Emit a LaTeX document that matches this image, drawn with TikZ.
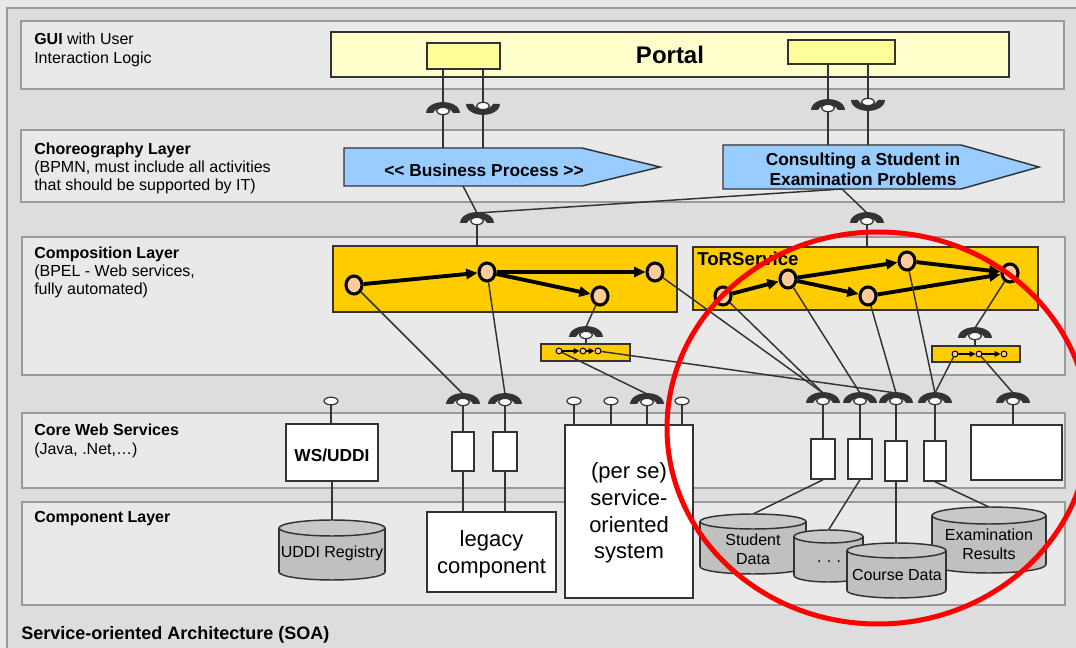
\documentclass[tikz,border=0pt]{standalone}
\usepackage{fontspec}
\setmainfont{Liberation Sans}
\usetikzlibrary{arrows.meta,fit,shapes.geometric}

\definecolor{bgouter}{HTML}{E8E8E8}
\definecolor{bg}{HTML}{DDDDDD}
\definecolor{layerfill}{HTML}{E9E9E9}
\definecolor{layerline}{HTML}{9A9A9A}
\definecolor{ink}{HTML}{333333}
\definecolor{portalfill}{HTML}{FFFFCC}
\definecolor{portalbox}{HTML}{FFFF99}
\definecolor{procblue}{HTML}{99CCFF}
\definecolor{bpelgold}{HTML}{FFCC00}
\definecolor{actpeach}{HTML}{FFCC99}
\definecolor{dbgray}{HTML}{C0C0C0}
\definecolor{dbtop}{HTML}{C8C8C8}
\definecolor{markred}{HTML}{FF0000}

% database drum: left, right, top, bottom, end-ellipse radius
\newcommand\drumshape[5]{%
  \filldraw[drum, fill=dbgray] ({(#1+#2)/2},{#4-#5}) ellipse [x radius={(#2-#1)/2}, y radius=#5];
  \fill[dbgray] (#1,{#3+#5}) rectangle (#2,{#4-#5});
  \draw[drumline] (#1,{#3+#5}) -- (#1,{#4-#5}) (#2,{#3+#5}) -- (#2,{#4-#5});
  \filldraw[drum] ({(#1+#2)/2},{#3+#5}) ellipse [x radius={(#2-#1)/2}, y radius=#5];
}

\begin{document}
\begin{tikzpicture}[x=0.75pt,y=-0.75pt,
  layer/.style={draw=layerline, fill=layerfill, line width=1.1pt, inner sep=0pt},
  lbl/.style={anchor=base west, inner sep=0pt, align=left, font=\fontsize{12}{13.75}\selectfont},
  portal/.style={draw=ink, fill=portalfill, line width=1.1pt, inner sep=0pt},
  pbox/.style={draw=ink, fill=portalbox, line width=1.1pt, inner sep=0pt},
  proc/.style={draw=ink, fill=procblue, line width=1.1pt},
  proctext/.style={font=\fontsize{13}{15}\selectfont\bfseries, align=center, inner sep=0pt},
  bpel/.style={draw=ink, fill=bpelgold, line width=1.1pt, inner sep=0pt},
  act/.style={ellipse, draw=black, fill=actpeach, line width=2.3pt, minimum width=12pt, minimum height=13.5pt, inner sep=0pt},
  tact/.style={circle, draw=black, fill=actpeach, line width=0.75pt, minimum size=4.4pt, inner sep=0pt},
  flow/.style={line width=2.9pt, -{Triangle[length=8.5pt,width=7.5pt]}},
  tflow/.style={line width=1.2pt, -{Triangle[length=4.5pt,width=4.2pt]}},
  wire/.style={draw=ink, line width=1.1pt},
  stem/.style={draw=ink, line width=1.5pt},
  wbox/.style={draw=ink, fill=white, line width=1.1pt, inner sep=0pt},
  drum/.style={draw=ink, fill=dbtop, line width=1.1pt},
  drumline/.style={draw=ink, line width=1.1pt},
  dbtext/.style={font=\fontsize{12}{14}\selectfont, inner sep=0pt, align=center},
  bigtext/.style={font=\fontsize{16.5}{20}\selectfont, align=center, inner sep=0pt},
  cupdown/.pic={
    \fill[ink] (-17,2) .. controls (-16,-12.5) and (16,-12.5) .. (17,2) -- (10,2) .. controls (8,-4.5) and (-8,-4.5) .. (-10,2) -- cycle;
    \draw[ink, fill=white, line width=0.9pt] (0,0) ellipse [x radius=6.5, y radius=3.6];
  },
  cupup/.pic={
    \fill[ink] (-17,-2) .. controls (-16,12.5) and (16,12.5) .. (17,-2) -- (10,-2) .. controls (8,4.5) and (-8,4.5) .. (-10,-2) -- cycle;
    \draw[ink, fill=white, line width=0.9pt] (0,0) ellipse [x radius=6.5, y radius=3.6];
  },
  lolli/.pic={
    \draw[ink, fill=white, line width=0.9pt] (0,0) ellipse [x radius=7, y radius=3.8];
  }]
\useasboundingbox (0,0) rectangle (1076,648);
\clip (0,0) rectangle (1076,648);

% background and frame
\fill[bgouter] (0,0) rectangle (1076,648);
\draw[fill=bg, draw=layerline, line width=0.9pt] (7,8) rectangle (1100,680);

% layers
\node[layer, fit={(21,21)(1064,89)}] (guiL) {};
\node[layer, fit={(21,130)(1064,202)}] (chorL) {};
\node[layer, fit={(22,237)(1065,375)}] (compL) {};
\node[layer, fit={(22,413)(1065,488)}] (coreL) {};
\node[layer, fit={(22,502)(1065,605)}] (cmpL) {};

% layer captions (anchored at the baseline of their last line)
\node[lbl] (guiT) at (34,63.3) {\textbf{GUI} with User\\Interaction Logic};
\node[lbl] (chorT) at (34,190.7) {\textbf{Choreography Layer}\\(BPMN, must include all activities\\that should be supported by IT)};
\node[lbl] (compT) at (34,294.7) {\textbf{Composition Layer}\\(BPEL - Web services,\\fully automated)};
\node[lbl] (coreT) at (34,454.3) {\textbf{Core Web Services}\\(Java, .Net,…)};
\node[lbl] (cmpT) at (34,523) {\textbf{Component Layer}};
\node[lbl, font=\fontsize{13.5}{15}\selectfont\bfseries] (soaT) at (21,640) {Service-oriented Architecture (SOA)};

% portal
\node[portal, fit={(331,32)(1009,77)}] (portal) {};
\node[font=\fontsize{18}{20}\selectfont\bfseries, inner sep=0pt] (portalT) at (670,55) {Portal};
\node[pbox, fit={(427,43)(500,69)}] (pl) {};
\node[pbox, fit={(788,40)(895,64)}] (pr) {};

% choreography processes
\draw[proc] (344,148) -- (582,148) -- (660,167) -- (582,186) -- (344,186) -- cycle;
\node[inner sep=0pt, fit={(344,148)(582,186)}] (bp) {};
\node[proctext] (bpT) at (484,170) {<\kern0pt< Business Process >\kern0pt>};
\draw[proc] (723,145) -- (961,145) -- (1039,167) -- (961,189) -- (723,189) -- cycle;
\node[inner sep=0pt, fit={(723,145)(961,189)}] (cons) {};
\node[proctext] (consT) at (863,169) {Consulting a Student in\\Examination Problems};

% interfaces between GUI and choreography
\coordinate (s1) at (443,111);
\coordinate (s2) at (483,106);
\coordinate (s3) at (828,108);
\coordinate (s4) at (868,102);
\draw[stem] (pl.south -| s1) -- (s1 |- bp.north);
\draw[stem] (pl.south -| s2) -- (s2 |- bp.north);
\draw[stem] (pr.south -| s3) -- (s3 |- cons.north);
\draw[stem] (pr.south -| s4) -- (s4 |- cons.north);
\pic at (s1) {cupdown};
\pic at (s2) {cupup};
\pic at (s3) {cupdown};
\pic at (s4) {cupup};

% composition boxes
\node[bpel, fit={(333,246)(677,312)}] (cb1) {};
\node[bpel, fit={(693,247)(1038,310)}] (tor) {};
\node[font=\fontsize{14}{16}\selectfont\bfseries, anchor=base west, inner sep=0pt] (torT) at (697,266) {ToRService};

% interfaces between choreography and composition
\coordinate (s5) at (477,221);
\coordinate (s5t) at (477,213);
\coordinate (s6) at (867,221);
\coordinate (s6t) at (867,213);
\coordinate (bpB) at (463,186);
\coordinate (consB) at (842,189);
\draw[wire] (bpB) -- (s5t);
\draw[wire] (consB) -- (s5t);
\draw[wire] (consB) -- (s6t);
\draw[wire] (s5) -- (s5 |- cb1.north);
\draw[wire] (s6) -- (s6 |- tor.north);
\pic at (s5) {cupdown};
\pic at (s6) {cupdown};

% activities
\node[act] (n1) at (354,285) {};
\node[act] (n2) at (487,272) {};
\node[act] (n3) at (600,296) {};
\node[act] (n4) at (655,272) {};
\draw[flow] (n1) -- (n2);
\draw[flow] (n2) -- (n4);
\draw[flow] (n2) -- (n3);

\node[act] (m1) at (723,296) {};
\node[act] (m2) at (788,279) {};
\node[act] (m3) at (868,296) {};
\node[act] (m4) at (907,261) {};
\node[act] (m5) at (1010,273) {};
\draw[flow] (m1) -- (m2);
\draw[flow] (m2) -- (m4);
\draw[flow] (m2) -- (m3);
\draw[flow] (m4) -- (m5);
\draw[flow] (m3) -- (m5);

% small composed services
\node[bpel, fit={(541,344)(630,361)}] (sb1) {};
\node[tact] (t1) at (559,351) {};
\node[tact] (t2) at (583,351) {};
\node[tact] (t3) at (598,351) {};
\draw[tflow] (t1) -- (t2);
\draw[tflow] (t2) -- (t3);
\node[bpel, fit={(932,346)(1020,362)}] (sb2) {};
\node[tact] (u1) at (955,354) {};
\node[tact] (u2) at (979,354) {};
\node[tact] (u3) at (1004,354) {};
\draw[tflow] (u1) -- (u2);
\draw[tflow] (u2) -- (u3);

\coordinate (s7) at (586,335);
\coordinate (s7t) at (586,327);
\coordinate (s8) at (975,336);
\coordinate (s8t) at (975,328);
\draw[wire] (n3) -- (s7t);
\draw[wire] (s7) -- (s7 |- sb1.north);
\draw[wire] (m5) -- (s8t);
\draw[wire] (s8) -- (s8 |- sb2.north);
\pic at (s7) {cupdown};
\pic at (s8) {cupdown};

% core web services
\node[wbox, fit={(286,424)(378,481)}] (ws) {};
\node[font=\fontsize{13}{15}\selectfont\bfseries, inner sep=0pt] (wsT) at (332,455) {WS/UDDI};
\node[wbox, fit={(452,432)(474,471)}] (lb1) {};
\node[wbox, fit={(493,432)(517,471)}] (lb2) {};
\node[wbox, fit={(811,439)(835,479)}] (rb1) {};
\node[wbox, fit={(848,439)(872,479)}] (rb2) {};
\node[wbox, fit={(885,441)(907,481)}] (rb3) {};
\node[wbox, fit={(924,441)(946,481)}] (rb4) {};
\node[wbox, fit={(971,425)(1062,480)}] (rb5) {};

% component layer
\node[wbox, fit={(427,512)(556,592)}] (legacy) {};
\node[bigtext] (legacyT) at (491.5,554) {legacy\\component};
\node[wbox, fit={(565,425)(693,598)}] (perse) {};
\node[bigtext] (perseT) at (629,513) {(per se)\\service-\\oriented\\system};

\drumshape{279}{385}{520}{580}{8}
\coordinate (uddi) at (332,520);
\node[dbtext] (uddiT) at (332,553) {UDDI Registry};
\drumshape{700}{806}{514}{574}{7.5}
\coordinate (student) at (753,514);
\node[dbtext] (studentT) at (753,549) {Student\\Data};
\drumshape{794}{863}{530}{582}{6.5}
\coordinate (dots) at (828.5,530);
\node[dbtext] (dotsT) at (829,562) {.\,\,.\,\,.};
\drumshape{932}{1046}{507}{573}{8.5}
\coordinate (exam) at (989,507);
\node[dbtext] (examT) at (989,544) {Examination\\Results};
\drumshape{847}{946}{543}{598}{7.5}
\coordinate (course) at (896,543);
\node[dbtext] (courseT) at (897,575) {Course Data};

% interface points of the core services
\coordinate (l0) at (331,401);
\coordinate (d1) at (463,402);  \coordinate (d1t) at (463,394);
\coordinate (d2) at (505,402);  \coordinate (d2t) at (505,394);
\coordinate (l1) at (574,401);
\coordinate (l2) at (611,401);
\coordinate (d3) at (647,402);  \coordinate (d3t) at (647,394);
\coordinate (l4) at (682,401);
\coordinate (d4) at (823,401);  \coordinate (d4t) at (823,393);
\coordinate (d5) at (860,401);  \coordinate (d5t) at (860,393);
\coordinate (d6) at (896,401);  \coordinate (d6t) at (896,393);
\coordinate (d7) at (935,401);  \coordinate (d7t) at (935,393);
\coordinate (d8) at (1013,401); \coordinate (d8t) at (1013,393);

% service wiring
\draw[wire] (l0) -- (l0 |- ws.north);
\draw[wire] (ws.south) -- (uddi);
\draw[wire] (d1) -- (d1 |- lb1.north);
\draw[wire] (d2) -- (d2 |- lb2.north);
\draw[wire] (lb1.south) -- (lb1.south |- legacy.north);
\draw[wire] (lb2.south) -- (lb2.south |- legacy.north);
\draw[wire] (l1) -- (l1 |- perse.north);
\draw[wire] (l2) -- (l2 |- perse.north);
\draw[wire] (d3) -- (d3 |- perse.north);
\draw[wire] (l4) -- (l4 |- perse.north);
\draw[wire] (d4) -- (d4 |- rb1.north);
\draw[wire] (d5) -- (d5 |- rb2.north);
\draw[wire] (d6) -- (d6 |- rb3.north);
\draw[wire] (d7) -- (d7 |- rb4.north);
\draw[wire] (d8) -- (d8 |- rb5.north);
\draw[wire] (rb1.south) -- (student);
\draw[wire] (rb2.south) -- (dots);
\draw[wire] (rb3.south) -- (course);
\draw[wire] (rb4.south) -- (exam);

% composition to core services
\draw[wire] (n1) -- (d1t);
\draw[wire] (n2) -- (d2t);
\draw[wire] (t1) -- (d3t);
\draw[wire] (t3) -- (d6t);
\draw[wire] (n4) -- (d4t);
\draw[wire] (m1) -- (d4t);
\draw[wire] (m2) -- (d5t);
\draw[wire] (m3) -- (d6t);
\draw[wire] (m4) -- (d7t);
\draw[wire] (u1) -- (d7t);
\draw[wire] (u2) -- (d8t);

\pic at (l0) {lolli};
\pic at (d1) {cupdown};
\pic at (d2) {cupdown};
\pic at (l1) {lolli};
\pic at (l2) {lolli};
\pic at (d3) {cupdown};
\pic at (l4) {lolli};
\pic at (d4) {cupdown};
\pic at (d5) {cupdown};
\pic at (d6) {cupdown};
\pic at (d7) {cupdown};
\pic at (d8) {cupdown};

% highlighted region
\draw[markred, line width=3.75pt] (878,428) ellipse [x radius=211, y radius=196];
\end{tikzpicture}
\end{document}
